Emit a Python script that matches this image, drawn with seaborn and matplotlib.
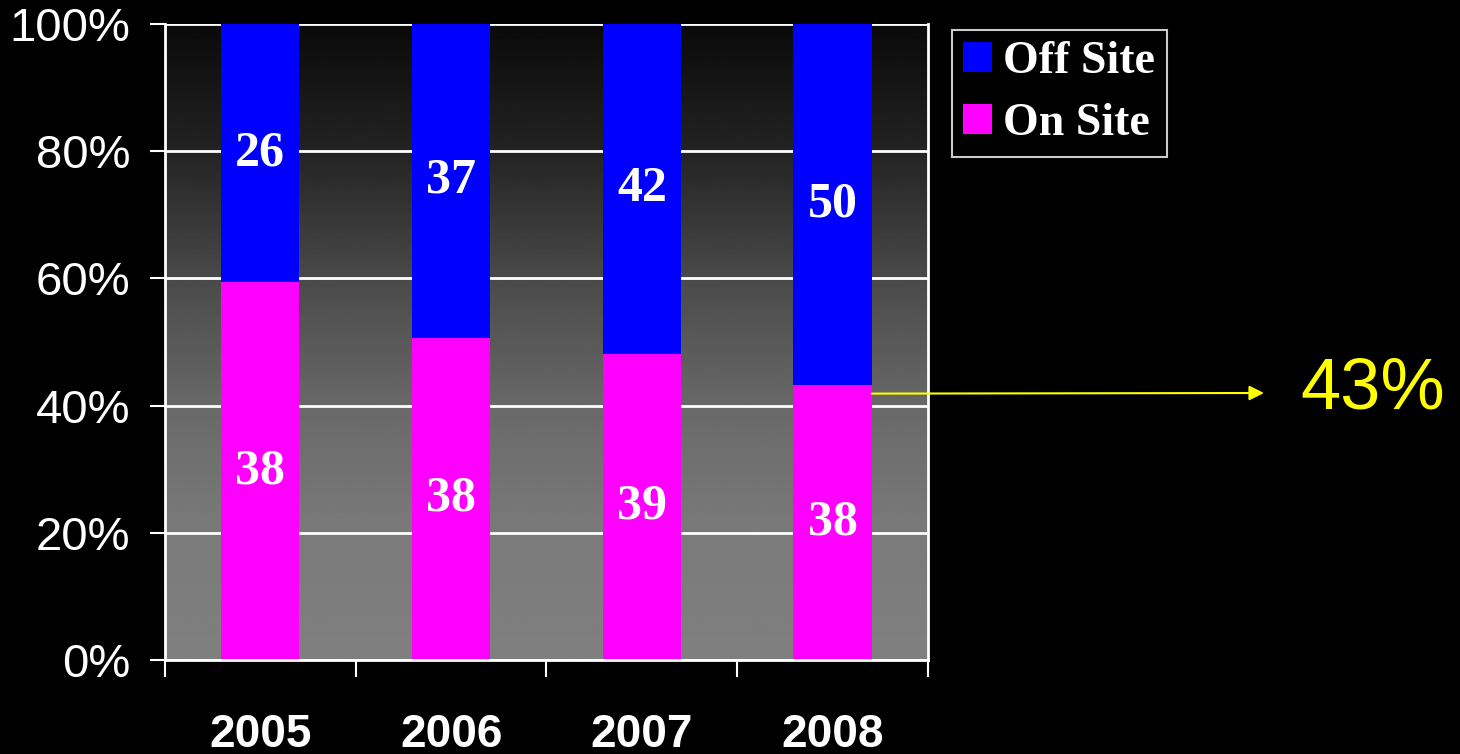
"""
On Site vs Off Site share by year - 100% stacked bars on a dark slide background.
"""

import numpy as np
import pandas as pd
import matplotlib
matplotlib.use("Agg")
import matplotlib.pyplot as plt
import seaborn as sns
from matplotlib.patches import Patch

# -------------------------------
# DATA
# -------------------------------
years = ["2005", "2006", "2007", "2008"]
on_site = [38, 38, 39, 38]
off_site = [26, 37, 42, 50]
y_ticks = [0, 20, 40, 60, 80, 100]
y_tick_labels = ["0%", "20%", "40%", "60%", "80%", "100%"]
callout_text = "43%"

df = pd.DataFrame({"Year": years, "On Site": on_site, "Off Site": off_site})
df["Total"] = df["On Site"] + df["Off Site"]
df["On pct"] = df["On Site"] / df["Total"] * 100
df["Full"] = 100.0

BLUE = "#0000FF"
MAGENTA = "#FF00FF"
YELLOW = "#FFFF00"

# -------------------------------
# FIGURE
# -------------------------------
sns.set_theme(style="white")
plt.rcParams["font.family"] = ["Liberation Sans", "DejaVu Sans"]

fig = plt.figure(figsize=(14.6, 7.54), dpi=100, facecolor="black")
ax = fig.add_axes([0.113, 0.1247, 0.5226, 0.8435])
ax.set_facecolor("black")

# vertical gradient background (dark at top, grey at bottom)
grad_y = [0, 20, 40, 60, 80, 100]
grad_v = [0.50, 0.48, 0.41, 0.29, 0.14, 0.04]
rows = np.linspace(100, 0, 400)
g = np.interp(rows, grad_y, grad_v)
img = np.repeat(g[:, None], 2, axis=1)
ax.imshow(img, cmap="gray", vmin=0, vmax=1, extent=[-0.5, 3.5, 0, 100],
          aspect="auto", zorder=0, interpolation="bilinear")

# bars
sns.barplot(data=df, x="Year", y="Full", color=BLUE, width=0.41,
            saturation=1, ax=ax, zorder=3, edgecolor="none", linewidth=0)
sns.barplot(data=df, x="Year", y="On pct", color=MAGENTA, width=0.41,
            saturation=1, ax=ax, zorder=4, edgecolor="none", linewidth=0)

# value labels
for i, row in df.iterrows():
    ax.text(i, row["On pct"] / 2, str(row["On Site"]), ha="center", va="center",
            color="white", fontsize=36, fontweight="bold",
            family="Liberation Serif", zorder=6)
    ax.text(i, row["On pct"] + (100 - row["On pct"]) / 2, str(row["Off Site"]),
            ha="center", va="center", color="white", fontsize=36,
            fontweight="bold", family="Liberation Serif", zorder=6)

# axes styling
ax.set_xlim(-0.5, 3.5)
ax.set_ylim(0, 100)
ax.set_yticks(y_ticks)
ax.set_yticklabels(y_tick_labels)
ax.yaxis.grid(True, color="white", linewidth=2)
for line in ax.get_ygridlines():
    line.set_zorder(2)
ax.tick_params(axis="y", colors="white", labelsize=34, length=11, width=1.5,
               left=True, pad=14)
ax.set_xticks(range(len(years)))
ax.set_xticklabels(years)
ax.tick_params(axis="x", colors="white", labelsize=33, length=0, pad=38)
for lbl in ax.get_xticklabels():
    lbl.set_fontweight("bold")
# category boundary ticks below the axis
ax.set_xticks([-0.5, 0.5, 1.5, 2.5, 3.5], minor=True)
ax.tick_params(axis="x", which="minor", bottom=True, length=12, width=1.5,
               color="white", direction="out")
ax.set_xlabel("")
ax.set_ylabel("")
for side in ["left", "bottom", "right"]:
    ax.spines[side].set_visible(True)
    ax.spines[side].set_color("white")
    ax.spines[side].set_linewidth(2)
    ax.spines[side].set_zorder(7)
ax.spines["top"].set_visible(False)

# legend
handles = [Patch(facecolor=BLUE, edgecolor="none", label="Off Site"),
           Patch(facecolor=MAGENTA, edgecolor="none", label="On Site")]
leg = fig.legend(handles=handles, loc="upper left",
                 bbox_to_anchor=(952 / 1460, 1 - 30 / 754),
                 frameon=True, fancybox=False, facecolor="black",
                 edgecolor="white", handlelength=0.62, handleheight=0.62,
                 handletextpad=0.25, borderpad=0.25, labelspacing=0.43,
                 borderaxespad=0,
                 prop={"family": "Liberation Serif", "weight": "bold", "size": 33})
leg.get_frame().set_linewidth(1.5)
for t in leg.get_texts():
    t.set_color("white")

# callout arrow + text for the 2008 on-site share
last = len(years) - 1
ax.annotate("", xy=(1264 / 1460, 1 - 393 / 754), xycoords="figure fraction",
            xytext=(last + 0.205, df["On pct"].iloc[last] - 1.3),
            textcoords="data",
            arrowprops=dict(arrowstyle="-|>", color=YELLOW, lw=1.5,
                            mutation_scale=22, shrinkA=0, shrinkB=0),
            annotation_clip=False, zorder=8)
fig.text(1373 / 1460, 1 - 390 / 754, callout_text, color=YELLOW, fontsize=52,
         ha="center", va="center")

fig.savefig("out.png", dpi=100, facecolor="black")
